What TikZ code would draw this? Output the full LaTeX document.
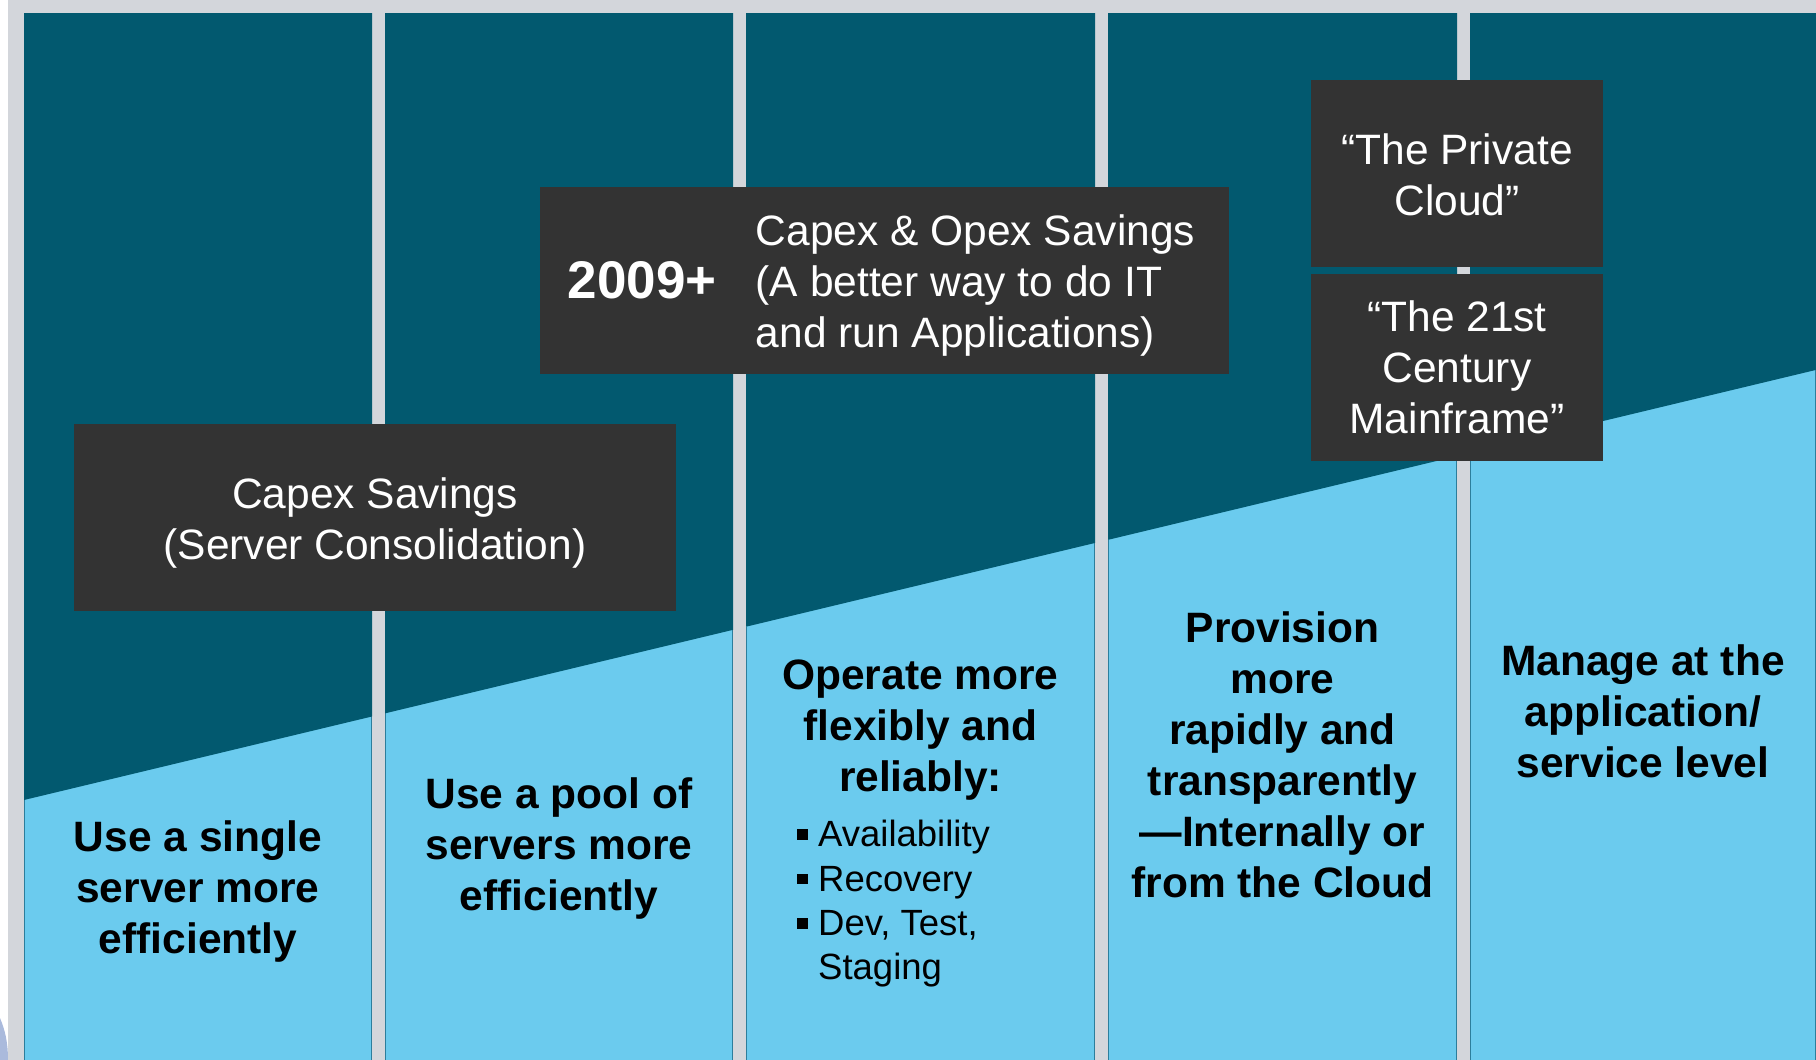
\documentclass[tikz,border=0pt]{standalone}
\usepackage{fontspec}
\setmainfont{Liberation Sans}
\definecolor{tealdark}{HTML}{02596F}
\definecolor{skyblue}{HTML}{6BCBEE}
\definecolor{framegray}{HTML}{D3D6DB}
\definecolor{boxgray}{HTML}{333333}
\definecolor{edgeteal}{HTML}{2C7E9C}
\definecolor{cornerblue}{HTML}{AABADC}
\tikzset{
  darkbox/.style={fill=boxgray, draw=none, inner sep=0pt},
  boxtext/.style={text=white, inner sep=0pt, align=center, anchor=base,
    font=\fontsize{42.5}{51}\selectfont},
  coltext/.style={text=black, inner sep=0pt, align=center, anchor=base,
    font=\fontsize{42.5}{51}\selectfont\bfseries},
  bullettext/.style={text=black, inner sep=0pt, align=left, anchor=base west,
    font=\fontsize{36.5}{44.4}\selectfont},
}
\newcommand{\sqbullet}{\llap{\rule[6.7pt]{10.6pt}{10.6pt}\hspace{10.4pt}}}
\begin{document}
\begin{tikzpicture}[x=1pt,y=-1pt]
\useasboundingbox (0,0) rectangle (1816,1060);
\fill[white] (0,0) rectangle (1816,1060);
\fill[framegray] (8,0) rectangle (1816,1060);
\fill[cornerblue] (0,1060) -- (0,1018) .. controls (5,1030) and (8,1042) .. (8,1060) -- cycle;
% columns
\foreach \a/\b in {24/372, 385/733, 746/1095, 1108/1457, 1470/1816}{
  \fill[skyblue] (\a,13) rectangle (\b,1060);
  \draw[edgeteal, line width=1pt] (\a+0.5,{800-0.24*(\a-24)}) -- (\a+0.5,1060);
  \draw[edgeteal, line width=1pt] (\b-0.5,{800-0.24*(\b-24)}) -- (\b-0.5,1060);
  \fill[tealdark] (\a,13) -- (\b,13) -- (\b,{800-0.24*(\b-24)}) -- (\a,{800-0.24*(\a-24)}) -- cycle;
}
% dark boxes
\node[darkbox, minimum width=602pt, minimum height=187pt] (capexbox) at (375,517.5) {};
\node[darkbox, minimum width=689pt, minimum height=187pt] (opexbox) at (884.5,280.5) {};
\node[darkbox, minimum width=292pt, minimum height=187pt] (privatebox) at (1457,173.5) {};
\node[darkbox, minimum width=292pt, minimum height=187pt] (mainframebox) at (1457,367.5) {};
% box texts (base anchor = last line baseline)
\node[boxtext] (capextext) at (375,559) {Capex Savings\\(Server Consolidation)};
\node[boxtext, anchor=base west, font=\fontsize{53}{60}\selectfont\bfseries] (yeartext) at (567.7,298.3) {2009+};
\node[boxtext, anchor=base west, align=left] (opextext) at (755.6,347) {Capex \& Opex Savings\\(A better way to do IT\\and run Applications)};
\node[boxtext] (privatetext) at (1457,215) {“The Private\\Cloud”};
\node[boxtext] (mainframetext) at (1457,433.7) {“The 21st\\Century\\Mainframe”};
% column texts
\node[coltext] (col1text) at (198,953.7) {Use a single\\server more\\efficiently};
\node[coltext] (col2text) at (559,910.3) {Use a pool of\\servers more\\efficiently};
\node[coltext] (col3text) at (920.5,791) {Operate more\\flexibly and\\reliably:};
\node[bullettext] (col3list) at (818,979.9) {\sqbullet Availability\\\sqbullet Recovery\\\sqbullet Dev, Test,\\Staging};
\node[coltext] (col4text) at (1282.5,897.7) {Provision\\more\\rapidly and\\transparently\\—Internally or\\from the Cloud};
\node[coltext] (col5text) at (1643,777) {Manage at the\\application/\\service level};
\end{tikzpicture}
\end{document}
